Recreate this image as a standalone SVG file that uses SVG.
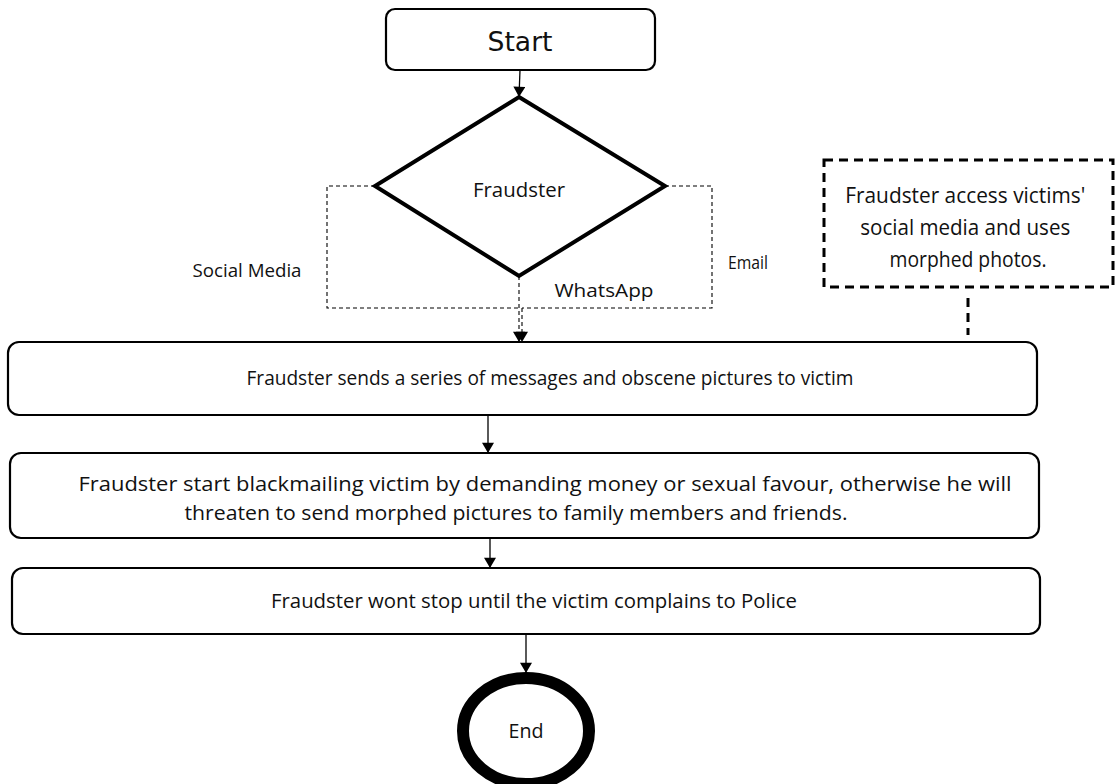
<svg xmlns="http://www.w3.org/2000/svg" width="1116" height="784" viewBox="0 0 1116 784">
  <style>
    .txt { font-family: "Open Sans", "Liberation Sans", sans-serif; fill: #111; }
    .box { fill: #fff; stroke: #000; stroke-width: 2.2; }
    .flow { fill: none; stroke: #000; stroke-width: 1.3; }
    .branch { fill: none; stroke: #000; stroke-width: 1.1; stroke-dasharray: 4 3; }
  </style>
  <defs>
    <marker id="arrow" viewBox="0 0 12 14" refX="12" refY="7" markerWidth="14" markerHeight="12" markerUnits="userSpaceOnUse" orient="auto">
      <path d="M0,0 L12,7 L0,14 Z" fill="#000"/>
    </marker>
  </defs>

  <rect width="1116" height="784" fill="#fff"/>

  <!-- connectors -->
  <g id="connectors">
    <line class="flow" x1="520" y1="70" x2="519" y2="97" marker-end="url(#arrow)"/>
    <path class="branch" d="M375,186 H327 V308 H519"/>
    <path class="branch" d="M665,186 H712 V308 H522"/>
    <line class="branch" x1="519" y1="276" x2="519" y2="342" marker-end="url(#arrow)"/>
    <line class="branch" x1="522" y1="308" x2="522" y2="342" marker-end="url(#arrow)"/>
    <line class="flow" x1="488" y1="415" x2="488" y2="453" marker-end="url(#arrow)"/>
    <line class="flow" x1="490" y1="538" x2="490" y2="568" marker-end="url(#arrow)"/>
    <line class="flow" x1="526" y1="634" x2="526" y2="673" marker-end="url(#arrow)"/>
    <line x1="968" y1="298" x2="968" y2="335" stroke="#000" stroke-width="3" stroke-dasharray="9 6"/>
  </g>

  <!-- branch labels -->
  <g id="labels">
    <text class="txt" x="247" y="277" font-size="19" text-anchor="middle" textLength="109" lengthAdjust="spacingAndGlyphs">Social Media</text>
    <text class="txt" x="748" y="269" font-size="19" text-anchor="middle" textLength="40" lengthAdjust="spacingAndGlyphs">Email</text>
    <text class="txt" x="604" y="297" font-size="19" text-anchor="middle" textLength="99" lengthAdjust="spacingAndGlyphs">WhatsApp</text>
  </g>

  <g id="start">
    <rect class="box" x="386" y="9" width="269" height="61" rx="9"/>
    <text x="520" y="51" font-family="'DejaVu Sans', Verdana, sans-serif" font-size="26" fill="#111" text-anchor="middle" textLength="65" lengthAdjust="spacingAndGlyphs">Start</text>
  </g>

  <g id="decision">
    <polygon points="519,97 665,186 519,276 375,186" fill="#fff" stroke="#000" stroke-width="4" stroke-linejoin="miter"/>
    <text class="txt" x="519" y="197" font-size="20" text-anchor="middle" textLength="92" lengthAdjust="spacingAndGlyphs">Fraudster</text>
  </g>

  <g id="note">
    <rect x="824" y="160" width="289" height="127" fill="#fff" stroke="#000" stroke-width="3" stroke-dasharray="9 6"/>
    <text class="txt" font-size="21" text-anchor="middle">
      <tspan x="968" y="203" textLength="240" lengthAdjust="spacingAndGlyphs">Fraudster access victims'</tspan>
      <tspan x="968" y="235" textLength="210" lengthAdjust="spacingAndGlyphs">social media and uses</tspan>
      <tspan x="968" y="267" textLength="157" lengthAdjust="spacingAndGlyphs">morphed photos.</tspan>
    </text>
  </g>

  <g id="step1">
    <rect class="box" x="8" y="342" width="1029" height="73" rx="11"/>
    <text class="txt" x="550" y="385" font-size="19.5" text-anchor="middle" textLength="607" lengthAdjust="spacingAndGlyphs">Fraudster sends a series of messages and obscene pictures to victim</text>
  </g>

  <g id="step2">
    <rect class="box" x="10" y="453" width="1029" height="85" rx="11"/>
    <text class="txt" x="545" y="491" font-size="19.5" text-anchor="middle" textLength="933" lengthAdjust="spacingAndGlyphs">Fraudster start blackmailing victim by demanding money or sexual favour, otherwise he will</text>
    <text class="txt" x="516" y="520" font-size="19.5" text-anchor="middle" textLength="663" lengthAdjust="spacingAndGlyphs">threaten to send morphed pictures to family members and friends.</text>
  </g>

  <g id="step3">
    <rect class="box" x="12" y="568" width="1028" height="66" rx="11"/>
    <text class="txt" x="534" y="608" font-size="19.5" text-anchor="middle" textLength="526" lengthAdjust="spacingAndGlyphs">Fraudster wont stop until the victim complains to Police</text>
  </g>

  <g id="end">
    <ellipse cx="526" cy="731" rx="63" ry="53" fill="#fff" stroke="#000" stroke-width="12"/>
    <text class="txt" x="526" y="738" font-size="20" text-anchor="middle" textLength="35" lengthAdjust="spacingAndGlyphs">End</text>
  </g>
</svg>
